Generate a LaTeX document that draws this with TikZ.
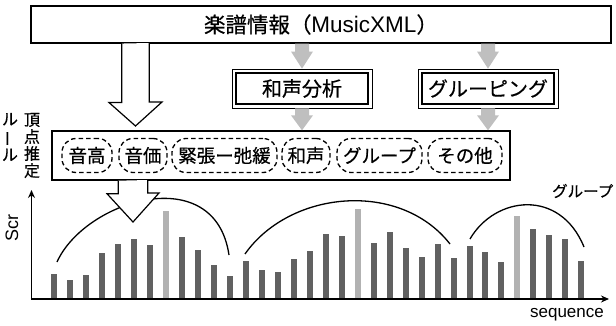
\documentclass[tikz,border=0pt]{standalone}
\usepackage{fontspec}
\setmainfont{Liberation Sans}
\newfontfamily\jp[FakeBold=0.5]{Noto Sans CJK JP}
\usetikzlibrary{arrows.meta,calc}
\newcommand\myfs[1]{\fontsize{#1}{#1}\selectfont}
\colorlet{darkbar}{black!62}
\colorlet{lightbar}{black!30}
\begin{document}
\begin{tikzpicture}[x=1pt,y=-1pt,
  topbox/.style={draw, line width=1.1pt, fill=white, inner sep=0pt, minimum width=580pt, minimum height=37pt},
  anabox/.style={draw, line width=0.7pt, inner sep=0pt, minimum width=140pt, minimum height=39pt, font=\jp\myfs{20}},
  rulebox/.style={draw, line width=1.4pt, inner sep=0pt, minimum width=458pt, minimum height=49pt},
  item/.style={draw, dashed, dash pattern=on 4.5pt off 3pt, line width=1.3pt, rounded corners=14pt, inner sep=0pt, minimum height=34pt, font=\jp\myfs{18.5}},
  garrow/.style={fill=black!25},
  barrow/.style={draw, line width=1.2pt, fill=white, line join=miter},
  arc/.style={line width=1.3pt},
  axis/.style={line width=1.3pt, -{Stealth[length=8pt,width=7pt]}}
]
\useasboundingbox (0,0) rectangle (616,326);

% top box
\node[topbox] (src) at (321,24.5) {{\jp\myfs{21.5}楽譜情報（}{\myfs{22.5}MusicXML}{\jp\myfs{21.5}）}};

% analysis boxes (double border)
\node[anabox] (harm) at (302,88.5) {和声分析};
\node[anabox] (grp) at (488,88.5) {グルーピング};
\foreach \b in {harm,grp}{
  \draw[line width=1.3pt] ([shift={(4.3,4.3)}]\b.north west) rectangle ([shift={(-4.3,-4.3)}]\b.south east);
}

% rule box
\node[rulebox] (rule) at (281,155.5) {};
\node[item, minimum width=50pt] (e1) at (87,155.5) {音高};
\node[item, minimum width=48pt] (e2) at (143,155.5) {音価};
\node[item, minimum width=105pt] (e3) at (224.5,155.5) {緊張ー弛緩};
\node[item, minimum width=48pt] (e4) at (306,155.5) {和声};
\node[item, minimum width=85pt] (e5) at (379.5,155.5) {グループ};
\node[item, minimum width=74pt] (e6) at (465,155.5) {その他};

% left labels
\node[font=\jp\myfs{16}, align=center, inner sep=0pt] (lblA) at (32,145.5) {頂\\[1pt]点\\[1pt]推\\[1pt]定};
\node[font=\jp\myfs{16}, align=center, inner sep=0pt] (lblB) at (10,137) {ル\\[1pt]\rotatebox[origin=c]{90}{ー}\\[1pt]ル};

% gray arrows
\foreach \a/\b in {src/harm, src/grp}{
  \coordinate (gt) at (\a.south -| \b.north);
  \fill[garrow] ($(gt)+(-7,0)$) -- ($(gt)+(7,0)$) -- ($(gt)+(7,8)$) -- ($(gt)+(11,8)$) -- (\b.north) -- ($(gt)+(-11,8)$) -- ($(gt)+(-7,8)$) -- cycle;
}
\foreach \b in {harm, grp}{
  \coordinate (gt) at (\b.south);
  \fill[garrow] ($(gt)+(-7,0)$) -- ($(gt)+(7,0)$) -- ($(gt)+(7,7)$) -- ($(gt)+(11,7)$) -- (rule.north -| \b.south) -- ($(gt)+(-11,7)$) -- ($(gt)+(-7,7)$) -- cycle;
}

% axes
\coordinate (o) at (31.5,299);
\coordinate (ytip) at (31.5,190);
\coordinate (xtip) at (609,299);
\draw[axis] (o) -- (ytip);
\draw[axis] ([xshift=-0.65pt]o) -- (xtip);
\node[rotate=90, font=\myfs{18}, inner sep=0pt] (scr) at (12,228) {Scr};
\node[font=\myfs{17}, inner sep=0pt] (seq) at (567,315) {sequence};
\node[font=\jp\myfs{15.5}, anchor=west, inner sep=0pt] (glab) at (552,191) {グループ};

% bars
\foreach \h/\c [count=\i from 0] in {24/darkbar,18.5/darkbar,23.5/darkbar,45.8/darkbar,54.7/darkbar,59/darkbar,53.5/darkbar,87/lightbar,61.5/darkbar,48.3/darkbar,33.5/darkbar,22/darkbar,37.2/darkbar,28.7/darkbar,26.2/darkbar,39.2/darkbar,47.2/darkbar,64/darkbar,62.5/darkbar,89.7/lightbar,55.8/darkbar,66/darkbar,50.5/darkbar,41.7/darkbar,54.7/darkbar,40.3/darkbar,52.5/darkbar,46.7/darkbar,36.5/darkbar,82.8/lightbar,69/darkbar,63.3/darkbar,59.7/darkbar,37.3/darkbar}{
  \pgfmathsetmacro\xx{54.3+15.97*\i}
  \fill[fill=\c] (\xx-3,298.3) rectangle (\xx+3,298.3-\h);
}

% group arcs
\draw[arc] (57,262) .. controls (85,200) and (215,160) .. (229,255);
\draw[arc] (245,254) .. controls (290,190) and (400,180) .. (450,244);
\draw[arc] (470,239) .. controls (495,196) and (560,188) .. (584,247);

% big arrows
\coordinate (a1tip) at (135.5,126);
\draw[barrow] (src.south -| a1tip) ++(-13.7,0) -- ++(0,59) -- ++(-12.8,0) -- (a1tip) -- ++(26.5,-24) -- ++(-12.8,0) -- ++(0,-59);
\coordinate (a2tip) at (133,222);
\draw[barrow] (rule.south -| a2tip) ++(-14.7,0) -- ++(0,13) -- ++(-11.3,0) -- (a2tip) -- ++(26,-29) -- ++(-11.3,0) -- ++(0,-13);
\end{tikzpicture}
\end{document}
